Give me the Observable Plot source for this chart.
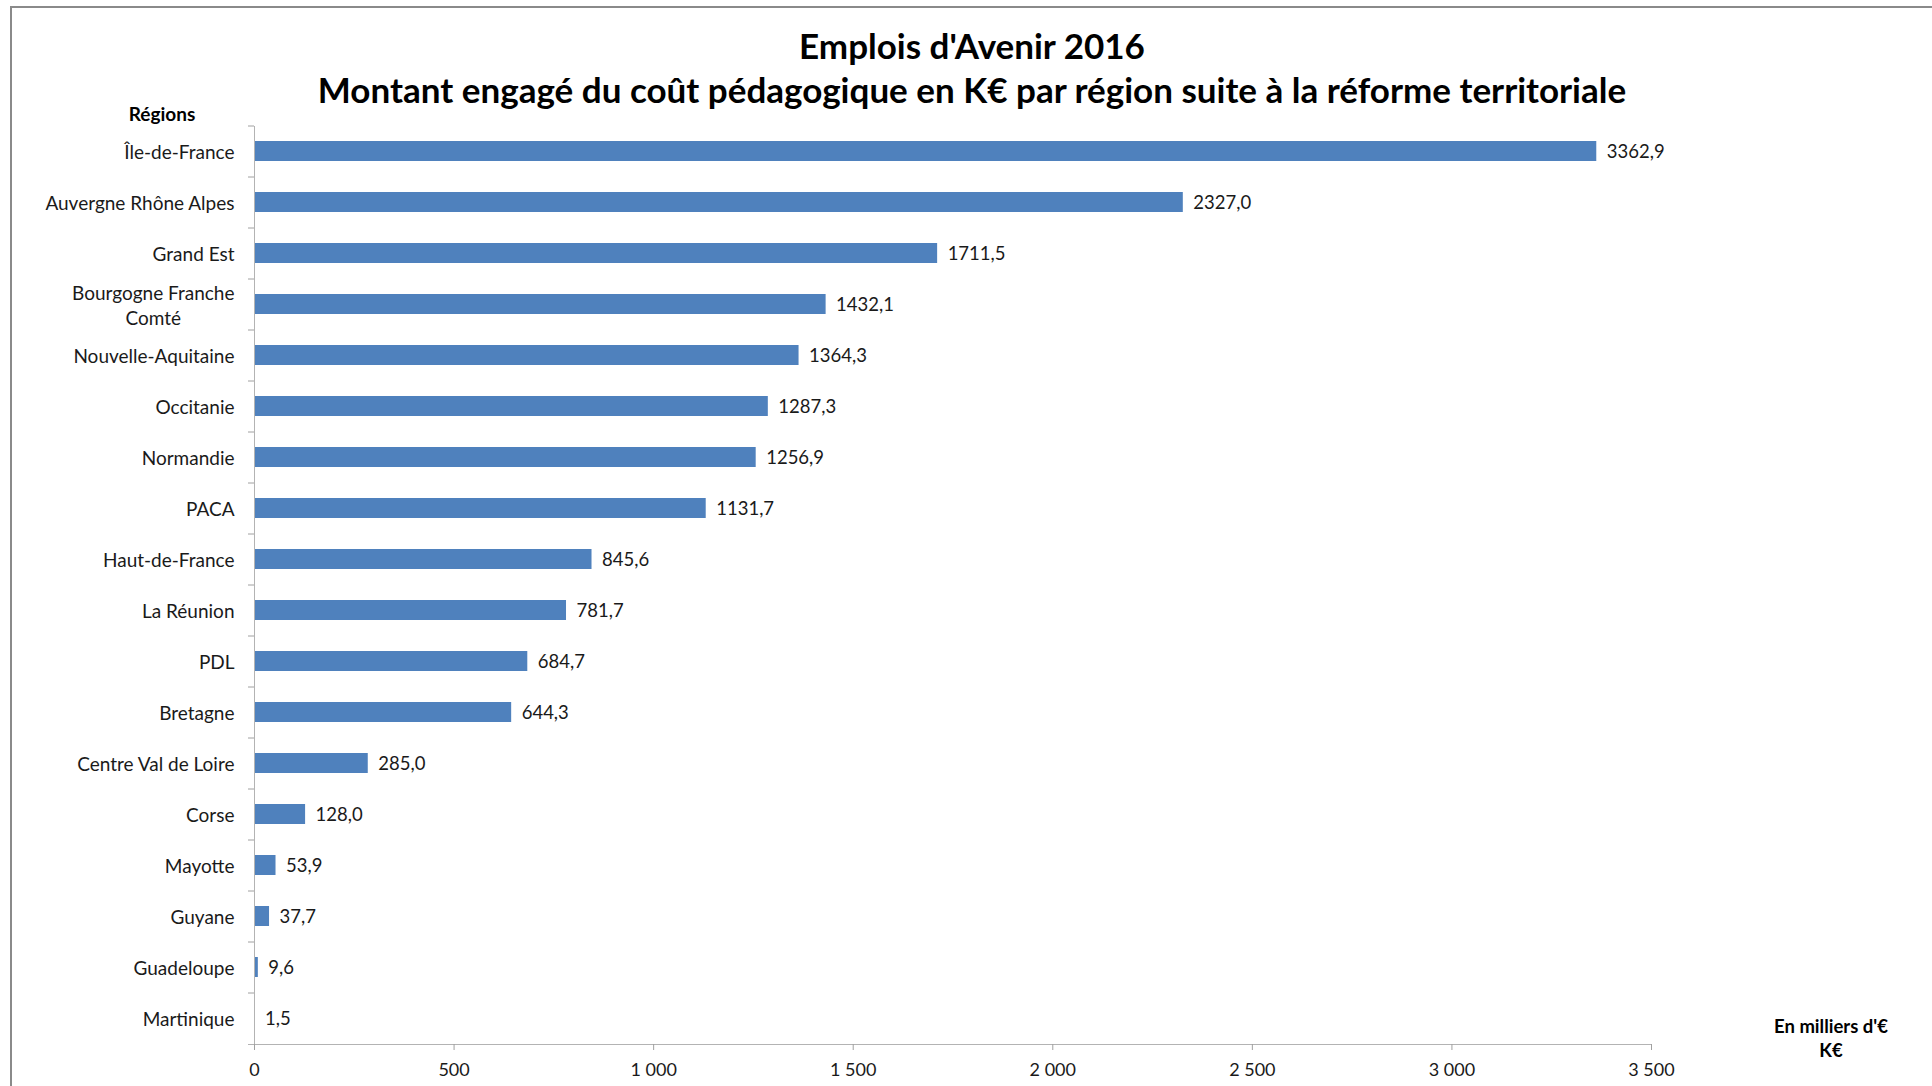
<!DOCTYPE html>
<html>
<head>
<meta charset="utf-8">
<script src="https://cdn.jsdelivr.net/npm/d3@7"></script>
<script src="https://cdn.jsdelivr.net/npm/@observablehq/plot@0.6"></script>
<style>
  html, body { margin: 0; padding: 0; background: #fff; overflow: hidden; }
  #wrap { position: relative; width: 1932px; height: 1086px; font-family: Lato, "Open Sans", sans-serif; color: #000; }
  #border { position: absolute; left: 10px; top: 6px; width: 2000px; height: 2000px; border-left: 2px solid #8a8a8a; border-top: 2px solid #8a8a8a; box-sizing: border-box; }
  .title { position: absolute; left: 0; width: 1944px; text-align: center; font-weight: bold; font-size: 35px; line-height: 44px; white-space: nowrap; }
  #t1 { top: 23px; }
  #regions { position: absolute; left: 162px; top: 102px; transform: translateX(-50%); font-weight: bold; font-size: 19px; white-space: nowrap; }
  #unit { position: absolute; left: 1831px; top: 1014px; transform: translateX(-50%); font-weight: bold; font-size: 18.5px; line-height: 24px; text-align: center; white-space: nowrap; }
  #chart { position: absolute; left: 0; top: 0; }
</style>
</head>
<body>
<div id="wrap">
  <div id="border"></div>
  <div id="chart"></div>
  <div class="title" id="t1">Emplois d'Avenir 2016<br>Montant engagé du coût pédagogique en K€ par région suite à la réforme territoriale</div>
  <div id="regions">Régions</div>
  <div id="unit">En milliers d'€<br>K€</div>
</div>
<script>
const regions = [
  "Île-de-France", "Auvergne Rhône Alpes", "Grand Est", "Bourgogne Franche\nComté",
  "Nouvelle-Aquitaine", "Occitanie", "Normandie", "PACA", "Haut-de-France",
  "La Réunion", "PDL", "Bretagne", "Centre Val de Loire", "Corse", "Mayotte",
  "Guyane", "Guadeloupe", "Martinique"
];
const values = [
  3362.9, 2327.0, 1711.5, 1432.1, 1364.3, 1287.3, 1256.9, 1131.7, 845.6,
  781.7, 684.7, 644.3, 285.0, 128.0, 53.9, 37.7, 9.6, 1.5
];
const xTicks = [0, 500, 1000, 1500, 2000, 2500, 3000, 3500];

const data = regions.map((r, i) => ({region: r, value: values[i]}));
const fmtValue = v => v.toFixed(1).replace(".", ",");
const fmtTick = v => d3.format(",")(v).replace(/,/g, " ");

const step = (1044 - 126) / regions.length;

const plot = Plot.plot({
  width: 1932,
  height: 1086,
  marginLeft: 254,
  marginRight: 281,
  marginTop: 126,
  marginBottom: 42,
  style: {fontFamily: "Lato, 'Open Sans', sans-serif", fontSize: "18px", color: "#1a1a1a", background: "transparent"},
  x: {domain: [0, 3500]},
  y: {domain: regions, paddingInner: 0.6, paddingOuter: 0.3},
  marks: [
    Plot.barX(data, {x: "value", y: "region", fill: "#4F81BD"}),
    Plot.text(data, {x: "value", y: "region", text: d => fmtValue(d.value), textAnchor: "start", dx: 10, dy: 1, fill: "#1a1a1a", fontSize: 18.5}),
    Plot.ruleX([0], {stroke: "#b3b3b3"}),
    Plot.frame({anchor: "bottom", stroke: "#b3b3b3", insetLeft: -6}),
    Plot.axisY({tickSize: 0, tickPadding: 20, label: null, fontSize: 19, lineHeight: 1.3, fill: "#1a1a1a"}),
    Plot.axisY({tickSize: 6, tickFormat: () => "", label: null, dy: -step / 2, stroke: "#a0a0a0"}),
    Plot.axisX({ticks: xTicks, tickSize: 6, tickPadding: 13, tickFormat: fmtTick, label: null, stroke: "#a0a0a0", fontSize: 18, fill: "#1a1a1a"})
  ]
});
document.getElementById("chart").appendChild(plot);

// Center multi-line category labels as a block (as in the reference)
plot.querySelectorAll("text").forEach(t => {
  const spans = t.querySelectorAll("tspan");
  if (spans.length > 1) {
    let w = 0;
    spans.forEach(s => { w = Math.max(w, s.getComputedTextLength()); });
    t.setAttribute("text-anchor", "middle");
    const tr = t.getAttribute("transform") || "";
    t.setAttribute("transform", tr + ` translate(${-w / 2},0)`);
  }
});
</script>
</body>
</html>
